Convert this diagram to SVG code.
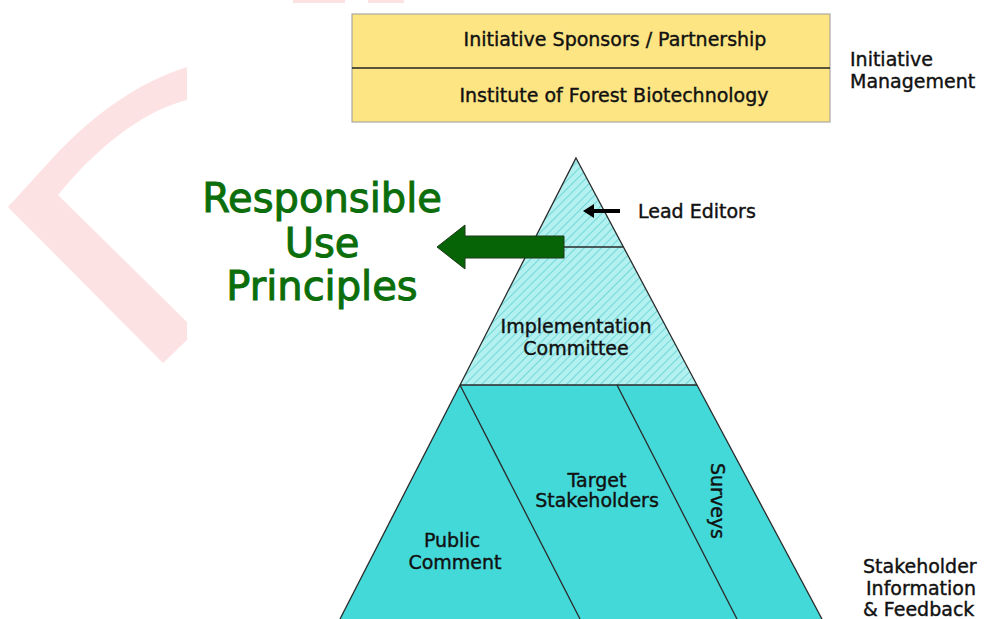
<svg xmlns="http://www.w3.org/2000/svg" width="984" height="619" viewBox="0 0 984 619">
<style>
text{font-family:"DejaVu Sans","Liberation Sans",Arial,sans-serif;fill:#111;stroke:#111;stroke-width:0.4}
.lbl{font-size:19px;text-anchor:middle}
.side{font-size:19px}
.green{font-size:40px;fill:#0b6e0b;stroke:#0b6e0b;stroke-width:1;text-anchor:middle}
.edge{stroke:#2a2a2a;stroke-width:1.3;fill:none}
</style>
<defs>
<pattern id="hatch" width="6" height="6" patternUnits="userSpaceOnUse" patternTransform="rotate(-45)">
<rect width="6" height="6" fill="#b3f0f0"/>
<line x1="0" y1="0" x2="6" y2="0" stroke="#5fd3d3" stroke-width="1.6"/>
</pattern>
</defs>
<rect width="984" height="619" fill="#fff"/>
<g id="watermark" fill="#fde2e4">
<path d="M187,67 C140,82 100,110 60,150 L8,207 L163,363 L187,340 L187,322 L58,195 C95,150 140,112 187,100 Z"/>
<rect x="293" y="0" width="52" height="3"/>
<rect x="368" y="0" width="36" height="3"/>
</g>
<g id="management">
<rect x="352" y="14" width="478" height="108" fill="#fde584" stroke="#999" stroke-width="1"/>
<line x1="352" y1="68" x2="830" y2="68" stroke="#222" stroke-width="1.3"/>
<text class="lbl" x="615" y="46">Initiative Sponsors / Partnership</text>
<text class="lbl" x="614" y="102">Institute of Forest Biotechnology</text>
</g>
<g id="initiative-management-label">
<text class="side" x="850" y="66">Initiative</text>
<text class="side" x="850" y="88">Management</text>
</g>
<g id="lower-pyramid">
<polygon points="460,385 697,385 822,619 340,619" fill="#44d9d9"/>
<line class="edge" x1="460" y1="385" x2="340" y2="619"/>
<line class="edge" x1="697" y1="385" x2="822" y2="619"/>
<line class="edge" x1="460" y1="385" x2="580" y2="619"/>
<line class="edge" x1="617" y1="385" x2="737" y2="619"/>
</g>
<g id="upper-pyramid">
<polygon points="576,158 697,385 460,385" fill="url(#hatch)" stroke="#2a2a2a" stroke-width="1.3"/>
<line class="edge" x1="530" y1="247" x2="623" y2="247"/>
</g>
<g id="public-comment">
<text class="lbl" x="452" y="547">Public</text>
<text class="lbl" x="455" y="569">Comment</text>
</g>
<g id="target-stakeholders">
<text class="lbl" x="597" y="487">Target</text>
<text class="lbl" x="597" y="507">Stakeholders</text>
</g>
<g id="surveys">
<text class="lbl" transform="translate(711,501) rotate(90)">Surveys</text>
</g>
<g id="implementation-committee">
<text class="lbl" x="576" y="333">Implementation</text>
<text class="lbl" x="576" y="355">Committee</text>
</g>
<g id="lead-editors">
<text class="side" x="638" y="218">Lead Editors</text>
</g>
<g id="responsible-use">
<text class="green" x="322" y="212">Responsible</text>
<text class="green" x="322" y="257">Use</text>
<text class="green" x="322" y="300">Principles</text>
</g>
<g id="connectors">
<polygon points="437,247 465,225 465,236 564,236 564,258 465,258 465,269" fill="#066406" stroke="#1a3a1a" stroke-width="1"/>
<polygon points="583,211 594,204 594,209 620,209 620,213 594,213 594,218" fill="#000"/>
</g>
<g id="stakeholder-label">
<text class="side" x="863" y="573">Stakeholder</text>
<text class="side" x="866" y="595">Information</text>
<text class="side" x="863" y="616">&amp; Feedback</text>
</g>
</svg>
